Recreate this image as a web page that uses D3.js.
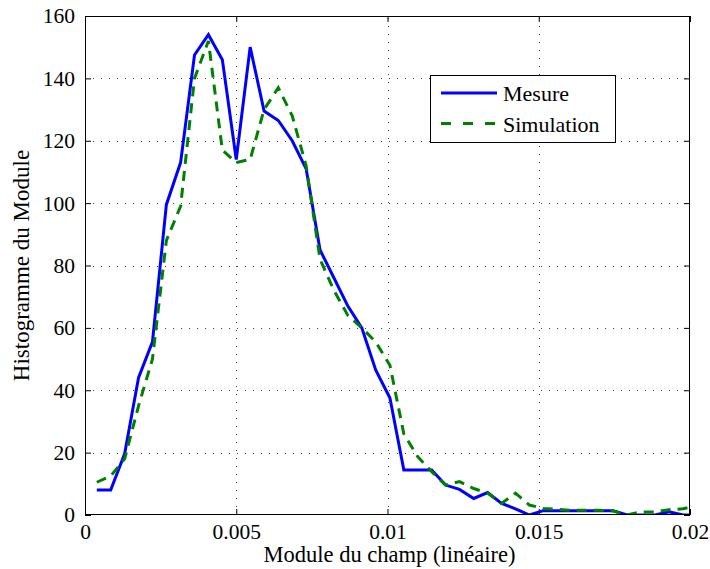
<!DOCTYPE html>
<html><head><meta charset="utf-8">
<script src="https://cdn.jsdelivr.net/npm/d3@7"></script>
<style>
body{margin:0;background:#fff;}
svg, svg text{font-family:'Liberation Serif','Times New Roman','Nimbus Roman','DejaVu Serif',serif !important;}
</style></head>
<body>
<svg id="chart" width="710" height="569"></svg>
<script>
// Bin centres (Module du champ)
const binCenters = [0.00039,0.00085,0.00131,0.00177,0.00223,0.00269,0.00316,0.00362,0.00408,0.00454,
  0.00500,0.00546,0.00592,0.00639,0.00685,0.00731,0.00777,0.00823,0.00869,0.00915,
  0.00961,0.01008,0.01054,0.01100,0.01146,0.01192,0.01238,0.01285,0.01331,0.01377,
  0.01423,0.01469,0.01515,0.01562,0.01608,0.01654,0.01700,0.01746,0.01792,0.01838,
  0.01884,0.01931,0.01977,0.02023];
const mesure = [8,8,19.6,44,55.5,99.5,113,147.5,154,146,
  114,150,129.5,126.5,120,111,85,76,67,60,
  46.5,37.5,14.4,14.4,14.4,9.6,8.2,5.3,7.2,3.7,
  2,0,1.4,1.4,1.4,1.4,1.4,1.4,0,0,
  0,1,0,0];
const simulation = [10.5,12.5,18,35,50,88,99,140,152,117,
  113,114,130,137,128,112,82,72,64,60,
  55.5,48,26,18.7,13.9,9.6,10.7,8.5,7,3.7,
  7,3.2,2.1,1.8,1.5,1.5,1.5,1.3,0,1,
  1,1.7,2,3];
const xTicks = [0,0.005,0.01,0.015,0.02];
const xTickLabels = ["0","0.005","0.01","0.015","0.02"];
const yTicks = [0,20,40,60,80,100,120,140,160];
const seriesNames = ["Mesure","Simulation"];
const seriesColors = ["#0000ff","#008000"];

const L=85,R=690,T=16,B=515;
const svg=d3.select("#chart");
const x=d3.scaleLinear().domain([0,0.02]).range([L,R]);
const y=d3.scaleLinear().domain([0,160]).range([B,T]);

svg.append("defs").append("clipPath").attr("id","clip")
  .append("rect").attr("x",L).attr("y",T).attr("width",R-L).attr("height",B-T);

// grid
const grid=svg.append("g").attr("stroke","#444").attr("stroke-width",1).attr("stroke-dasharray","1,7");
grid.selectAll(".gx").data(xTicks.slice(1,-1)).join("line")
  .attr("x1",d=>Math.round(x(d))+0.5).attr("x2",d=>Math.round(x(d))+0.5).attr("y1",B).attr("y2",T);
grid.selectAll(".gy").data(yTicks.slice(1,-1)).join("line")
  .attr("y1",d=>Math.round(y(d))+0.5).attr("y2",d=>Math.round(y(d))+0.5).attr("x1",L).attr("x2",R);

// axes (ticks inside)
const fs=21.5;
const ax=svg.append("g").attr("transform",`translate(0,${B})`)
  .call(d3.axisBottom(x).tickValues(xTicks).tickFormat((d,i)=>xTickLabels[i]).tickSizeInner(-6).tickSizeOuter(0).tickPadding(9));
const ay=svg.append("g").attr("transform",`translate(${L},0)`)
  .call(d3.axisLeft(y).tickValues(yTicks).tickSizeInner(-6).tickSizeOuter(0).tickPadding(10));
const axT=svg.append("g").attr("transform",`translate(0,${T})`)
  .call(d3.axisTop(x).tickValues(xTicks).tickFormat("").tickSizeInner(-6).tickSizeOuter(0));
const ayR=svg.append("g").attr("transform",`translate(${R},0)`)
  .call(d3.axisRight(y).tickValues(yTicks).tickFormat("").tickSizeInner(-6).tickSizeOuter(0));
[ax,ay,axT,ayR].forEach(g=>{g.select(".domain").remove();
  g.attr("font-family",null);
  g.selectAll("text").attr("font-size",fs).attr("fill","#000");
  g.selectAll("line").attr("stroke","#000");});
ax.selectAll("text").attr("dy","0.71em");

// series
const line=d3.line().x((d,i)=>x(binCenters[i])).y(d=>y(d));
const plot=svg.append("g").attr("clip-path","url(#clip)");
plot.append("path").datum(mesure).attr("d",line).attr("fill","none")
  .attr("stroke",seriesColors[0]).attr("stroke-width",3);
plot.append("path").datum(simulation).attr("d",line).attr("fill","none")
  .attr("stroke",seriesColors[1]).attr("stroke-width",3).attr("stroke-dasharray","10,7");

// box
svg.append("rect").attr("x",L+0.5).attr("y",T+0.5).attr("width",R-L-1).attr("height",B-T-1)
  .attr("fill","none").attr("stroke","#000").attr("stroke-width",1);

// axis titles
svg.append("text").attr("x",(L+R)/2+2).attr("y",562).attr("text-anchor","middle")
  .attr("font-size",22.5).text("Module du champ (linéaire)");
svg.append("text").attr("transform",`translate(29,${(T+B)/2}) rotate(-90)`).attr("text-anchor","middle")
  .attr("font-size",23).text("Histogramme du Module");

// legend
const lg=svg.append("g");
lg.append("rect").attr("x",430.5).attr("y",75.5).attr("width",185).attr("height",67)
  .attr("fill","#fff").attr("stroke","#000").attr("stroke-width",1);
seriesNames.forEach((n,i)=>{
  const yy=93+i*30.5;
  lg.append("line").attr("x1",441).attr("x2",497).attr("y1",yy).attr("y2",yy)
    .attr("stroke",seriesColors[i]).attr("stroke-width",3)
    .attr("stroke-dasharray",i===1?"10,12":null);
  lg.append("text").attr("x",503).attr("y",yy+8).attr("font-size",22).text(n);
});
</script>
</body></html>
